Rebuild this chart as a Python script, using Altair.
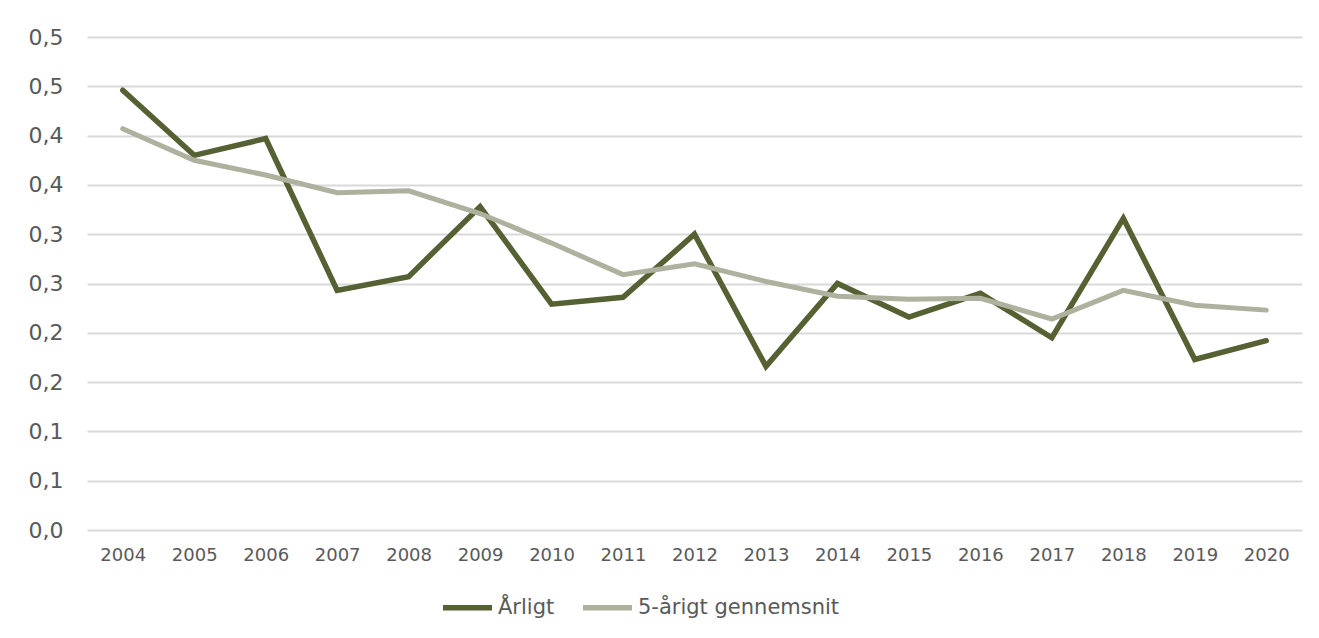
import json
import altair as alt
import pandas as pd

YEARS = [str(y) for y in range(2004, 2021)]
ANNUAL = [0.446, 0.380, 0.397, 0.243, 0.257, 0.328, 0.229, 0.236, 0.300, 0.166,
          0.250, 0.216, 0.240, 0.195, 0.316, 0.173, 0.192]
AVG5 = [0.407, 0.375, 0.360, 0.342, 0.344, 0.321, 0.291, 0.259, 0.270, 0.252,
        0.237, 0.234, 0.235, 0.214, 0.243, 0.228, 0.223]
SERIES = ["Årligt", "5-årigt gennemsnit"]
COLORS = ["#556033", "#ADB19D"]
Y_TICKS = [0, 0.05, 0.1, 0.15, 0.2, 0.25, 0.3, 0.35, 0.4, 0.45, 0.5]
Y_TICK_LABELS = ["0,0", "0,1", "0,1", "0,2", "0,2", "0,3", "0,3", "0,4", "0,4", "0,5", "0,5"]

rows = []
for s, vals in zip(SERIES, [ANNUAL, AVG5]):
    for y, v in zip(YEARS, vals):
        rows.append({"år": y, "værdi": v, "serie": s})
df = pd.DataFrame(rows)

FONT = "DejaVu Sans"
GREY = "#595959"

x_enc = alt.X(
    "år:O",
    scale=alt.Scale(type="point", padding=0.5),
    axis=alt.Axis(title=None, labelAngle=0, labelFontSize=18, labelColor=GREY,
                  labelFont=FONT, labelBaseline="middle", labelPadding=25,
                  ticks=False, domain=False, grid=False),
)
y_enc = alt.Y(
    "værdi:Q",
    scale=alt.Scale(domain=[0, 0.5], nice=False, zero=True),
    axis=alt.Axis(title=None, values=Y_TICKS,
                  labelExpr=json.dumps(Y_TICK_LABELS) + "[round(datum.value/0.05)]",
                  labelFontSize=22, labelColor=GREY, labelFont=FONT, labelPadding=24,
                  ticks=False, domain=False, grid=True, gridColor="#D9D9D9", gridWidth=1.8),
)
color_enc = alt.Color(
    "serie:N",
    scale=alt.Scale(domain=SERIES, range=COLORS),
    sort=SERIES,
    legend=alt.Legend(title=None, orient="none", direction="horizontal",
                      legendX=353, legendY=543, symbolType="stroke", symbolSize=2401,
                      symbolStrokeWidth=5.5, labelFontSize=21, labelColor=GREY, labelFont=FONT,
                      columnPadding=17, labelOffset=3, padding=0, labelLimit=500),
)

layer_a = (
    alt.Chart(df)
    .mark_line(strokeWidth=5.5, strokeCap="round", strokeJoin="miter")
    .transform_filter(alt.datum.serie == SERIES[0])
    .encode(x=x_enc, y=y_enc, color=color_enc)
)
layer_b = (
    alt.Chart(df)
    .mark_line(strokeWidth=5, strokeCap="round", strokeJoin="miter")
    .transform_filter(alt.datum.serie == SERIES[1])
    .encode(x=x_enc, y=y_enc, color=color_enc)
)

chart = alt.layer(layer_a, layer_b).properties(
    width=1215,
    height=493,
    autosize=alt.AutoSizeParams(type="none"),
    padding={"left": 79, "top": 29, "right": 9, "bottom": 88},
    background="white",
).configure_view(stroke=None)

chart.save("out.html", embed_options={"renderer": "svg", "actions": False})
